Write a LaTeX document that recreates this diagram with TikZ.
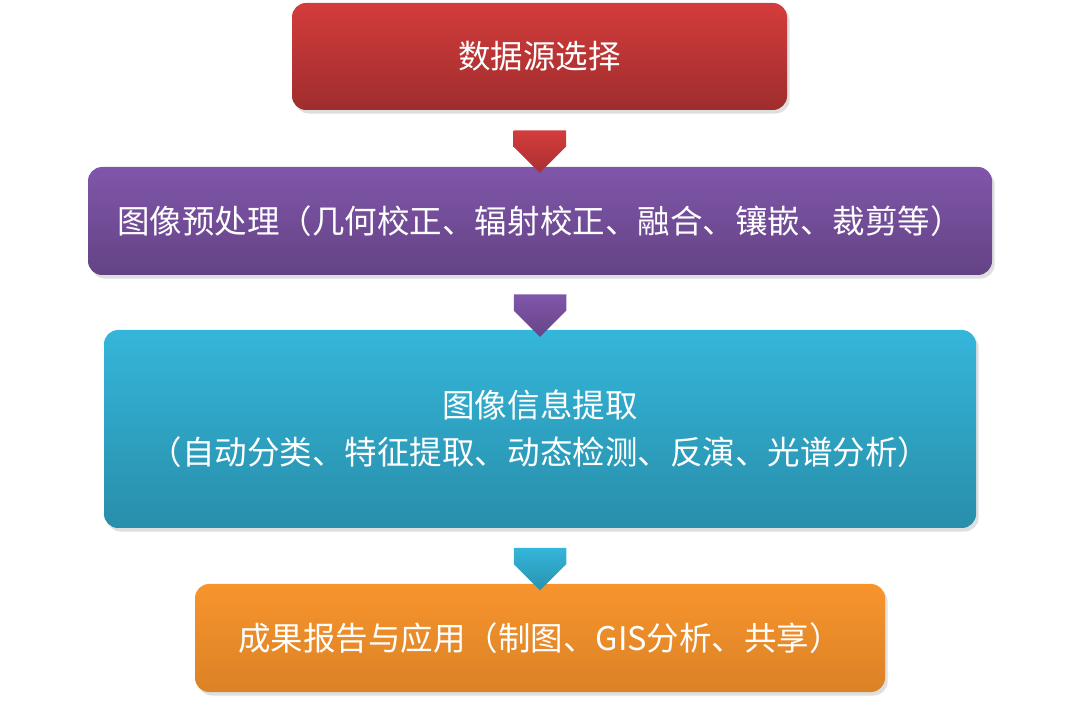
\documentclass[tikz,border=0pt]{standalone}
\usepackage{fontspec}
\setmainfont{Noto Sans CJK SC}
\usetikzlibrary{shapes.arrows, positioning, calc, shadows}
\definecolor{stepred}{RGB}{212, 60, 60}
\definecolor{steppurple}{RGB}{128, 86, 170}
\definecolor{stepcyan}{RGB}{52, 182, 218}
\definecolor{steporange}{RGB}{248, 148, 44}

\begin{document}
\begin{tikzpicture}[
    stage/.style={rectangle, rounded corners=8pt, align=center, text=white,
        font=\fontsize{18.5}{27}\selectfont, inner sep=0pt,
        drop shadow={shadow xshift=1.5pt, shadow yshift=-2pt, opacity=0.25}},
    down/.style={single arrow, minimum width=1.05cm, minimum height=0.85cm,
        single arrow head extend=0pt, shape border rotate=270, inner sep=0pt,
        single arrow tip angle=90}
]
    \useasboundingbox (0,0) rectangle (21.6,14.06);

    \node[stage, top color=stepred, bottom color=stepred!75!black,
        minimum width=9.9cm, minimum height=2.14cm] (source) at (10.79,12.93) {数据源选择};
    \node[stage, top color=steppurple, bottom color=steppurple!78!black,
        minimum width=18.08cm, minimum height=2.16cm] (prep) at (10.8,9.64)
        {图像预处理（几何校正、辐射校正、融合、镶嵌、裁剪等）};
    \node[stage, top color=stepcyan, bottom color=stepcyan!78!black,
        minimum width=17.44cm, minimum height=3.96cm] (extract) at (10.8,5.48)
        {图像信息提取\\（自动分类、特征提取、动态检测、反演、光谱分析）};
    \node[stage, top color=steporange, bottom color=steporange!88!black,
        minimum width=13.8cm, minimum height=2.16cm] (result) at (10.8,1.3)
        {成果报告与应用（制图、GIS分析、共享）};

    \node[down, top color=stepred, bottom color=stepred!80!black] (a1)
        at ($(source.south)!0.5!(prep.north)$) {};
    \node[down, top color=steppurple, bottom color=steppurple!80!black] (a2)
        at ($(prep.south)!0.5!(extract.north)$) {};
    \node[down, top color=stepcyan, bottom color=stepcyan!80!black] (a3)
        at ($(extract.south)!0.5!(result.north)$) {};
\end{tikzpicture}
\end{document}
